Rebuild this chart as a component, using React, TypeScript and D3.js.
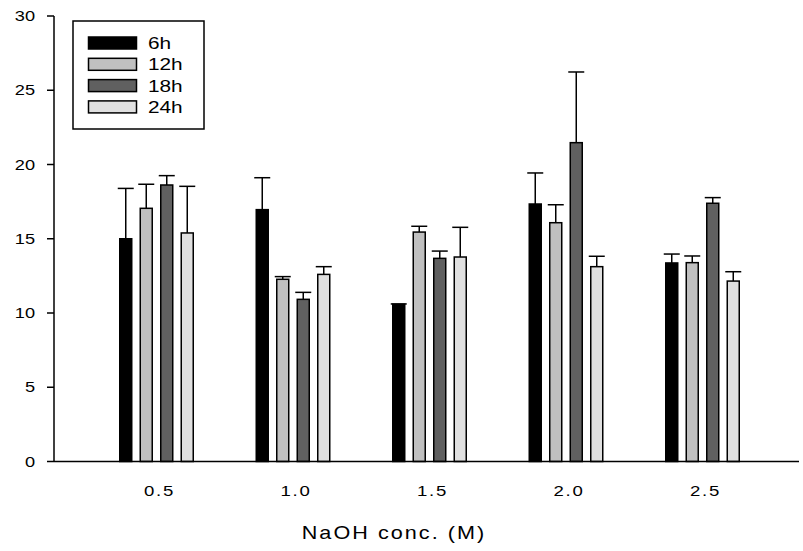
import React from "react";
import * as d3 from "d3";

const categories = ["0.5", "1.0", "1.5", "2.0", "2.5"];
const series = ["6h", "12h", "18h", "24h"];
const values6h = [15.0, 16.96, 10.59, 17.34, 13.37];
const values12h = [17.05, 12.27, 15.45, 16.08, 13.39];
const values18h = [18.62, 10.92, 13.68, 21.47, 17.39];
const values24h = [15.39, 12.6, 13.77, 13.12, 12.15];
const err6h = [3.39, 2.15, 0.02, 2.09, 0.6];
const err12h = [1.62, 0.18, 0.39, 1.21, 0.45];
const err18h = [0.63, 0.47, 0.49, 4.76, 0.38];
const err24h = [3.14, 0.52, 2.0, 0.7, 0.63];
const yTicks = [0, 5, 10, 15, 20, 25, 30];
const colors = ["#000000", "#c0c0c0", "#606060", "#e0e0e0"];

const W = 803;
const H = 551;

export default function App() {
  const vals = [values6h, values12h, values18h, values24h];
  const errs = [err6h, err12h, err18h, err24h];
  const y = d3.scaleLinear().domain([0, 30]).range([461.5, 16]);
  const x0 = d3.scalePoint<string>().domain(categories).range([156.5, 702.5]);
  const x1 = d3
    .scaleBand<string>()
    .domain(series)
    .range([-36.75, 36.75])
    .paddingInner(0.415);
  const bw = x1.bandwidth();
  const font = "'Liberation Sans', Arial, sans-serif";

  return (
    <svg
      width={W}
      height={H}
      style={{ position: "absolute", left: 0, top: 0, background: "#fff" }}
    >
      {/* bars */}
      {categories.map((c, ci) => (
        <g key={c}>
          {series.map((s, si) => {
            const v = vals[si][ci];
            const e = errs[si][ci];
            const bx = (x0(c) as number) + (x1(s) as number);
            const cx = bx + bw / 2;
            return (
              <g key={s}>
                <line
                  x1={cx}
                  x2={cx}
                  y1={y(v)}
                  y2={y(v + e)}
                  stroke="#000"
                  strokeWidth={1.5}
                />
                <line
                  x1={cx - 8}
                  x2={cx + 8}
                  y1={y(v + e)}
                  y2={y(v + e)}
                  stroke="#000"
                  strokeWidth={1.5}
                />
                <rect
                  x={bx}
                  y={y(v)}
                  width={bw}
                  height={y(0) - y(v)}
                  fill={colors[si]}
                  stroke="#000"
                  strokeWidth={1.5}
                />
              </g>
            );
          })}
        </g>
      ))}

      {/* axes */}
      <line x1={54} x2={54} y1={16} y2={y(0)} stroke="#000" strokeWidth={1.5} />
      <line x1={54} x2={799} y1={y(0)} y2={y(0)} stroke="#000" strokeWidth={1.5} />
      {yTicks.map((t) => (
        <g key={t}>
          <line x1={47} x2={54} y1={y(t)} y2={y(t)} stroke="#000" strokeWidth={1.5} />
          <text
            transform={`translate(35,${y(t) + 5}) scale(1.3,1)`}
            textAnchor="end"
            fontFamily={font}
            fontSize={14}
            fill="#000"
          >
            {t}
          </text>
        </g>
      ))}
      {categories.map((c) => (
        <text
          key={c}
          transform={`translate(${(x0(c) as number) + 3},496) scale(1.2,1)`}
          textAnchor="middle"
          fontFamily={font}
          fontSize={15.5}
          letterSpacing={1.5}
          fill="#000"
        >
          {c}
        </text>
      ))}
      <text
        transform="translate(394,539) scale(1.2,1)"
        textAnchor="middle"
        fontFamily={font}
        fontSize={18}
        letterSpacing={1.7}
        fill="#000"
      >
        NaOH conc. (M)
      </text>

      {/* legend */}
      <rect x={73} y={21} width={131} height={108} fill="#fff" stroke="#000" strokeWidth={1.5} />
      {series.map((s, si) => {
        const top = 37 + si * 21.3;
        return (
          <g key={s}>
            <rect
              x={88.5}
              y={top}
              width={48}
              height={12}
              fill={colors[si]}
              stroke="#000"
              strokeWidth={1.5}
            />
            <text
              transform={`translate(148,${top + 12}) scale(1.3,1)`}
              fontFamily={font}
              fontSize={16}
              fill="#000"
            >
              {s}
            </text>
          </g>
        );
      })}
    </svg>
  );
}
